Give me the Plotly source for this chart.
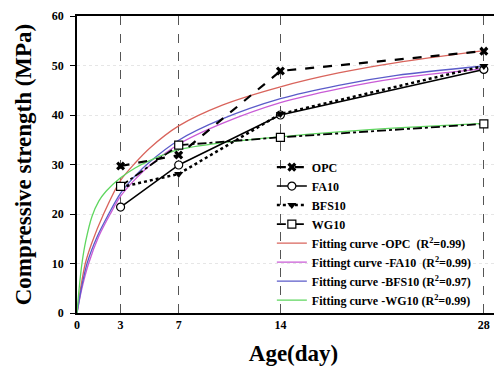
import plotly.graph_objects as go

ages = [3, 7, 14, 28]
opc = [29.7, 31.9, 48.9, 52.9]
fa10 = [21.4, 29.9, 40.0, 49.2]
bfs10 = [25.4, 28.1, 40.2, 49.9]
wg10 = [25.6, 33.9, 35.5, 38.2]

fit_opc_t = [0, 0.25, 0.57, 1, 1.83, 3, 4, 5, 7, 10, 14, 18, 22, 28]
fit_opc_y = [0, 5, 10, 14, 20, 26.8, 30.3, 33.3, 37.8, 42, 45.7, 48.5, 50.6, 53]
fit_fa_t = [0, 0.3, 0.8, 1.5, 2.29, 3, 4, 5, 7, 10, 14, 18, 22, 28]
fit_fa_y = [0, 4.5, 10, 15.5, 20, 23.6, 27, 29.8, 34.1, 38.3, 42.5, 45.3, 47.4, 49.3]
fit_bfs_t = [0, 0.3, 0.69, 1.4, 2.18, 3, 4, 5, 7, 10, 14, 18, 22, 28]
fit_bfs_y = [0, 5, 10, 15.5, 20, 24.2, 27.7, 30.5, 34.9, 39.2, 43.3, 46, 48, 49.9]
fit_wg_t = [0, 0.15, 0.34, 0.6, 1.03, 1.5, 2, 3, 4, 5, 7, 10, 14, 18, 22, 28]
fit_wg_y = [0, 5, 10, 14.5, 19.5, 22.6, 24.6, 27.3, 29.3, 30.8, 33.0, 34.4, 35.6, 36.6, 37.4, 38.3]

x_ticks = [0, 3, 7, 14, 28]
y_ticks = [0, 10, 20, 30, 40, 50, 60]

SERIF = "Liberation Serif, Times New Roman, serif"

fig = go.Figure()

fits = [
    (fit_opc_t, fit_opc_y, "#d9645c", "<b>Fitting curve -OPC  (R<sup>2</sup>=0.99)</b>"),
    (fit_fa_t, fit_fa_y, "#c95bd6", "<b>Fittingt curve -FA10  (R<sup>2</sup>=0.99)</b>"),
    (fit_bfs_t, fit_bfs_y, "#5b5bc9", "<b>Fitting curve -BFS10 (R<sup>2</sup>=0.97)</b>"),
    (fit_wg_t, fit_wg_y, "#5fd65f", "<b>Fitting curve -WG10 (R<sup>2</sup>=0.99)</b>"),
]
for i, (t, y, c, name) in enumerate(fits):
    fig.add_trace(go.Scatter(x=t, y=y, mode="lines", name=name,
                             line=dict(color=c, width=1.3, shape="spline", smoothing=0.8),
                             legendrank=5 + i, cliponaxis=False))

fig.add_trace(go.Scatter(x=ages, y=opc, mode="lines+markers", name="<b>OPC</b>",
                         line=dict(color="black", width=2.2, dash="dash"),
                         marker=dict(symbol="x", size=8, color="black"),
                         legendrank=1, cliponaxis=False))
fig.add_trace(go.Scatter(x=ages, y=fa10, mode="lines+markers", name="<b>FA10</b>",
                         line=dict(color="black", width=1.5),
                         marker=dict(symbol="circle", size=8, color="white",
                                     line=dict(color="black", width=1.2)),
                         legendrank=2, cliponaxis=False))
fig.add_trace(go.Scatter(x=ages, y=bfs10, mode="lines+markers", name="<b>BFS10</b>",
                         line=dict(color="black", width=2.5, dash="dot"),
                         marker=dict(symbol="triangle-down", size=8, color="black"),
                         legendrank=3, cliponaxis=False))
fig.add_trace(go.Scatter(x=ages, y=wg10, mode="lines+markers", name="<b>WG10</b>",
                         line=dict(color="black", width=1.8, dash="dashdot"),
                         marker=dict(symbol="square", size=8, color="white",
                                     line=dict(color="black", width=1.2)),
                         legendrank=4, cliponaxis=False))

fig.update_layout(
    width=502, height=372,
    margin=dict(l=69, r=0, t=8, b=67),
    paper_bgcolor="white", plot_bgcolor="white",
    font=dict(family=SERIF, color="black", size=12),
    showlegend=True,
    legend=dict(x=0.45, y=0.54, xanchor="left", yanchor="top",
                bgcolor="rgba(0,0,0,0)", font=dict(size=12, family=SERIF),
                tracegroupgap=0, itemwidth=30),
    xaxis=dict(range=[0, 29.8], tickvals=x_ticks,
               ticktext=[f"<b>{v}</b>" for v in x_ticks],
               showline=True, linecolor="black", linewidth=1.5, mirror=True,
               showgrid=True, gridcolor="#555555", griddash="dash", gridwidth=1,
               zeroline=False, ticks="", tickfont=dict(size=12),
               title=dict(text="<b>Age(day)</b>", font=dict(size=23), standoff=14)),
    yaxis=dict(range=[0, 60], tickvals=y_ticks,
               ticktext=[f"<b>{v}</b>" for v in y_ticks],
               showline=True, linecolor="black", linewidth=1.5,
               showgrid=True, gridcolor="#e6e6e6", griddash="dot", gridwidth=1,
               zeroline=False, ticks="outside", ticklen=5, tickcolor="black",
               ticklabelstandoff=4, tickfont=dict(size=12),
               title=dict(text="<b>Compressive strength (MPa)</b>", font=dict(size=23), standoff=14)),
)

fig.write_html("out.html")
